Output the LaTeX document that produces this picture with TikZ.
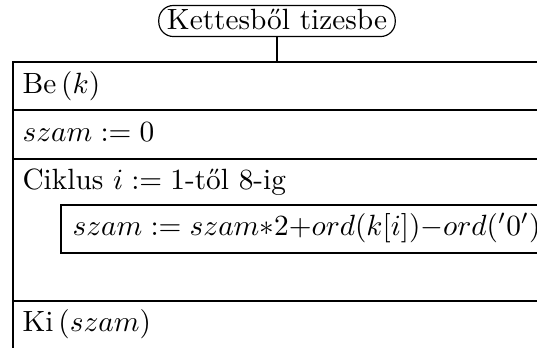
\documentclass[tikz,border=0pt]{standalone}
\begin{document}
\begin{tikzpicture}[x=0.3413pt,y=-0.3413pt,
  frame/.style={line width=0.75pt},
  thick frame/.style={line width=1pt},
  txt/.style={anchor=base west, inner sep=0pt, font=\fontsize{10pt}{12pt}\selectfont},
  titlebox/.style={draw, line width=0.4pt, rounded corners=5pt, inner xsep=2.8pt, inner ysep=0pt,
     minimum height=10.6pt, text height=7pt, text depth=1.5pt, font=\fontsize{10pt}{12pt}\selectfont}]
\useasboundingbox (0,0) rectangle (537,347);
\clip (0,0) rectangle (537,347);
% title
\node[titlebox] (title) at (277,21) {Kettesből tizesbe};
\coordinate (topc) at (277,62);
\draw[frame] (title.south) -- (topc);
% frame
\coordinate (tl) at (13,62);
\coordinate (tr) at (620,62);
\coordinate (bl) at (13,350);
\draw[frame] (tr) -- (tl) -- (bl);
\draw[frame] (13,110) -- (620,110);
\draw[frame] (13,159) -- (620,159);
\draw[thick frame] (13,301) -- (620,301);
\draw[thick frame] (61,205) rectangle (620,253);
% texts
\node[txt] (be) at (22,93) {Be\,$(k)$};
\node[txt] (szam) at (22,141) {$szam := 0$};
\node[txt] (cik) at (22,189) {Ciklus $i := 1$-től 8-ig};
\node[txt] (inner) at (72,235) {$szam := szam{*}2{+}ord(k[i]){-}ord('0')$};
\node[txt] (ki) at (22,331) {Ki\,$(szam)$};
\end{tikzpicture}
\end{document}
